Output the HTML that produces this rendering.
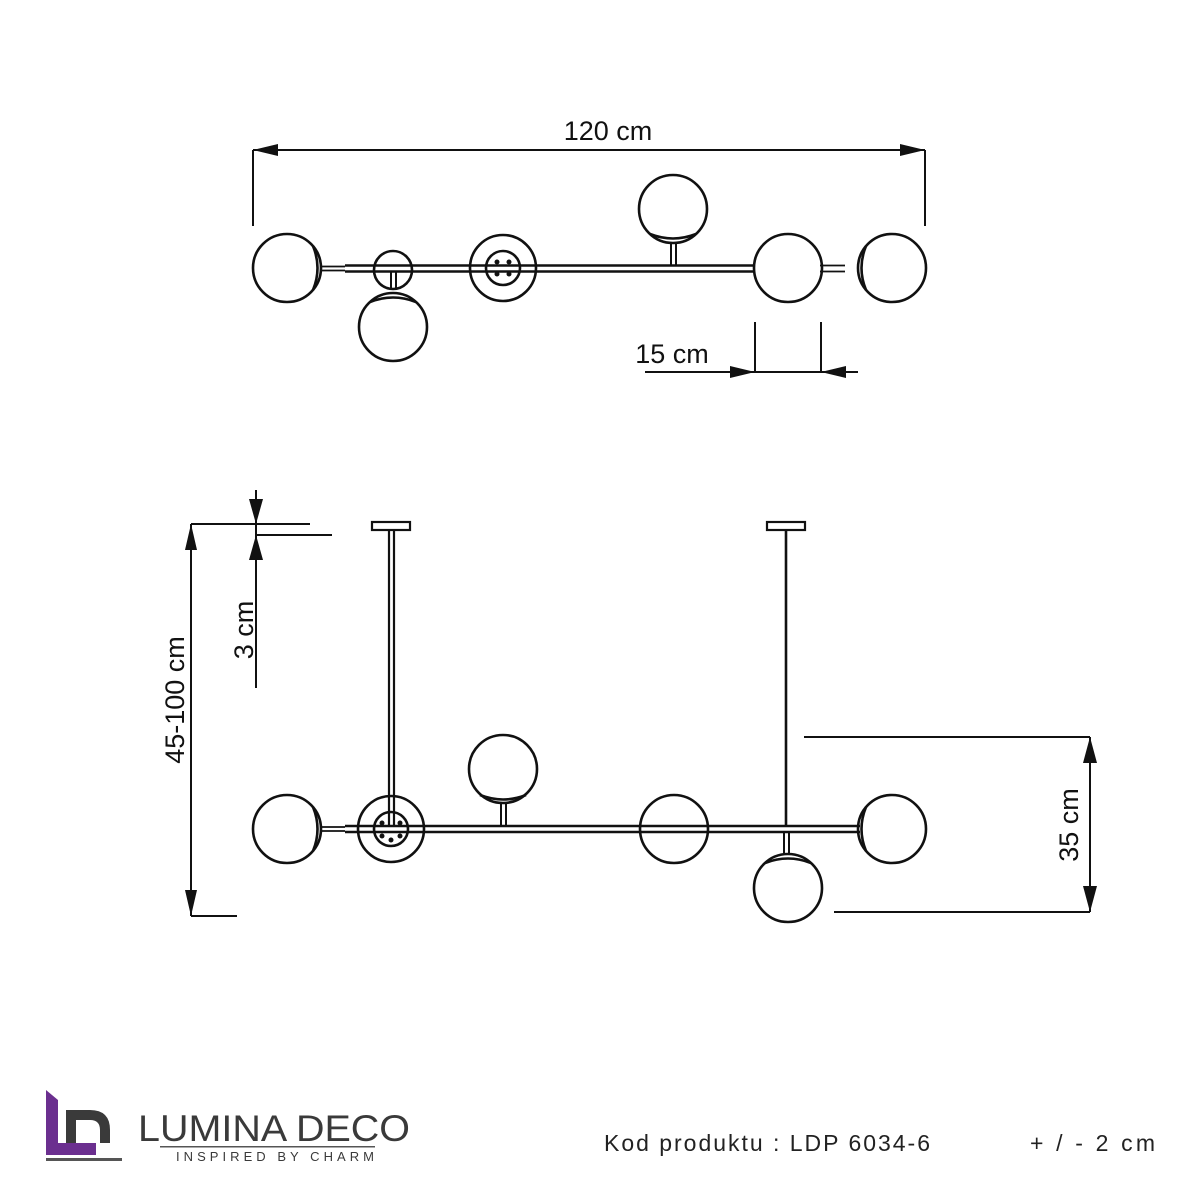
<!DOCTYPE html>
<html><head><meta charset="utf-8"><style>
html,body{margin:0;padding:0;background:#fff;}
svg{display:block;}
text{font-family:"Liberation Sans",sans-serif;}
</style></head><body>
<svg width="1201" height="1201" viewBox="0 0 1201 1201" xmlns="http://www.w3.org/2000/svg">
<g fill="none" stroke="#111" stroke-width="2.6">
<!-- TOP VIEW -->
<path d="M345 265.5H755M345 271.5H755" stroke-width="2.4"/>
<path d="M820 265.5H845M820 271.5H845" stroke-width="1.8"/>
<path d="M320 266.5H345M320 270.5H345" stroke-width="1.8"/>
<circle cx="287" cy="268" r="34"/>
<path d="M313 246 Q322 268 313 290"/>
<circle cx="393" cy="270" r="19"/>
<path d="M391 272V290M396 272V290" stroke-width="2"/>
<circle cx="393" cy="327" r="34"/>
<path d="M370 302 Q393 293 416 302"/>
<circle cx="503" cy="268" r="33"/>
<circle cx="503" cy="268" r="17"/>
<circle cx="673" cy="209" r="34"/>
<path d="M650 234 Q673 243 696 234"/>
<path d="M671 243V266M676 243V266" stroke-width="2"/>
<circle cx="788" cy="268" r="34"/>
<circle cx="892" cy="268" r="34"/>
<path d="M866 246 Q857 268 866 290"/>
<path d="M253 150H925M253 150V226M925 150V226" stroke-width="2"/>
<path d="M645 372H858M755 322V372M821 322V372" stroke-width="2"/>

<!-- SIDE VIEW -->
<rect x="372" y="522" width="38" height="8" stroke-width="2.2"/>
<rect x="767" y="522" width="38" height="8" stroke-width="2.2"/>
<path d="M389 530V826M394 530V826" stroke-width="2.2"/>
<path d="M786 530V826" stroke-width="2.6"/>
<path d="M345 826H860M345 832H860" stroke-width="2.4"/>
<path d="M320 827H345M320 831H345" stroke-width="1.8"/>
<circle cx="287" cy="829" r="34"/>
<path d="M313 807 Q322 829 313 851"/>
<circle cx="391" cy="829" r="33"/>
<circle cx="391" cy="829" r="17"/>
<circle cx="503" cy="769" r="34"/>
<path d="M480 795 Q503 804 526 795"/>
<path d="M501 804V826M506 804V826" stroke-width="2"/>
<circle cx="674" cy="829" r="34"/>
<path d="M784 832V855M789 832V855" stroke-width="2"/>
<circle cx="788" cy="888" r="34"/>
<path d="M765 863 Q788 854 811 863"/>
<circle cx="892" cy="829" r="34"/>
<path d="M866 807 Q857 829 866 851"/>
<path d="M191 524V916M191 524H310M191 916H237" stroke-width="2"/>
<path d="M256 490V688M256 535H332" stroke-width="2"/>
<path d="M1090 737V912M804 737H1090M834 912H1090" stroke-width="2"/>
</g>
<g fill="#111">
<circle cx="497" cy="262" r="2.5"/><circle cx="509" cy="262" r="2.5"/><circle cx="497" cy="274" r="2.5"/><circle cx="509" cy="274" r="2.5"/>
<circle cx="382" cy="823" r="2.5"/><circle cx="400" cy="823" r="2.5"/><circle cx="382" cy="836" r="2.5"/><circle cx="400" cy="836" r="2.5"/><circle cx="391" cy="840" r="2.5"/>
<polygon points="253,150 278,144 278,156"/>
<polygon points="925,150 900,144 900,156"/>
<polygon points="755,372 730,366 730,378"/>
<polygon points="821,372 846,366 846,378"/>
<polygon points="191,524 185,550 197,550"/>
<polygon points="191,916 185,890 197,890"/>
<polygon points="256,524 249,499 263,499"/>
<polygon points="256,535 249,560 263,560"/>
<polygon points="1090,737 1083,763 1097,763"/>
<polygon points="1090,912 1083,886 1097,886"/>
</g>
<g fill="#111" font-size="27">
<text x="608" y="140" text-anchor="middle">120 cm</text>
<text x="672" y="363" text-anchor="middle">15 cm</text>
<text transform="translate(184,700) rotate(-90)" text-anchor="middle">45-100 cm</text>
<text transform="translate(253,630) rotate(-90)" text-anchor="middle">3 cm</text>
<text transform="translate(1078,825) rotate(-90)" text-anchor="middle">35 cm</text>
</g>
<g>
<path d="M46 1090 L58 1100 V1143 H96 V1155 H46 Z" fill="#6b2f8f"/>
<path d="M66 1110 H90 Q110 1110 110 1130 V1143 H100 V1130 Q100 1120 90 1120 H76 V1143 H66 Z" fill="#3a3a3a"/>
<path d="M46 1158 H122 V1161 H46Z" fill="#555"/>
<text x="138" y="1141" font-size="37" fill="#3a3a3a" textLength="272" lengthAdjust="spacingAndGlyphs">LUMINA DECO</text>
<rect x="160" y="1146" width="215" height="1.5" fill="#555"/>
<text x="176" y="1161" font-size="13" fill="#3a3a3a" textLength="198" lengthAdjust="spacing">INSPIRED BY CHARM</text>
<text x="604" y="1151" font-size="23" fill="#222" textLength="326" lengthAdjust="spacing">Kod produktu :  LDP 6034-6</text>
<text x="1030" y="1151" font-size="23" fill="#222" textLength="125" lengthAdjust="spacing">+ / - 2 cm</text>
</g>
</svg>
</body></html>
